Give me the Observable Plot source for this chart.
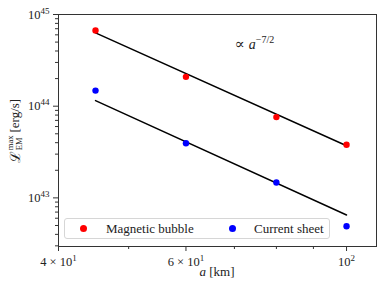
<!DOCTYPE html>
<html><head><meta charset="utf-8">
<script src="https://cdn.jsdelivr.net/npm/d3@7"></script>
<script src="https://cdn.jsdelivr.net/npm/@observablehq/plot@0.6"></script>
<style>
body{margin:0;background:#fff;}
#wrap{position:relative;width:391px;height:295px;font-family:"Liberation Serif","Times New Roman","DejaVu Serif",serif;color:#222;}
#wrap svg{display:block;}
#wrap svg text{font-family:"Liberation Serif","Times New Roman","DejaVu Serif",serif;}
.ylab{position:absolute;left:14px;top:131px;transform:translate(-50%,-50%) rotate(-90deg);white-space:nowrap;font-size:13px;display:flex;align-items:center;}
.stack{display:inline-flex;flex-direction:column;font-size:8.5px;line-height:0.95;margin:0 3px 0 1px;}
.xlab{position:absolute;left:217px;top:272px;transform:translate(-50%,-50%);font-size:13px;white-space:nowrap;}
.legend{position:absolute;left:64px;top:218px;width:266px;height:21px;border:1px solid #d6d6d6;border-radius:3px;background:rgba(255,255,255,0.85);box-sizing:border-box;font-size:13px;}
.legend .dot{position:absolute;width:7px;height:7px;border-radius:50%;top:6px;}
.legend .lt{position:absolute;top:1px;line-height:17px;white-space:nowrap;}
</style>
</head><body>
<div id="wrap"></div>
<script>
// data
const a = [45, 60, 80, 100];
const bubble = [6.7e44, 2.09e44, 7.6e43, 3.8e43];
const sheet = [1.48e44, 3.94e43, 1.47e43, 4.9e42];
const fitA = [45, 100];
const bubbleFit = [6.3e44, 3.7e43];
const sheetFit = [1.15e44, 6.5e42];
const seriesNames = ["Magnetic bubble", "Current sheet"];
const seriesColors = ["#ff0000", "#0000ff"];
const xMajor = [40, 60, 100];
const xMajorLabels = ["4 × 10^1", "6 × 10^1", "10^2"];
const xMinor = [50, 70, 80, 90];
const yMajor = [1e43, 1e44, 1e45];
const yMajorLabels = ["10^43", "10^44", "10^45"];
const yMinor = [3e42,4e42,5e42,6e42,7e42,8e42,9e42,2e43,3e43,4e43,5e43,6e43,7e43,8e43,9e43,2e44,3e44,4e44,5e44,6e44,7e44,8e44,9e44];
const noteA = [70.1];
const noteL = [4.7e44];

const pts = (ys) => a.map((d, i) => ({a: d, L: ys[i]}));
const fit = (ys) => fitA.map((d, i) => ({a: d, L: ys[i]}));

const chart = Plot.plot({
  width: 391, height: 295,
  marginLeft: 58, marginRight: 15, marginTop: 14, marginBottom: 49,
  x: {type: "log", domain: [40, 110]},
  y: {type: "log", domain: [2.95e42, 1e45]},
  style: {fontFamily: "Liberation Serif, serif", fontSize: "12px", color: "#333", background: "#fff"},
  marks: [
    Plot.axisX({ticks: xMinor, tickSize: 3, tickFormat: () => "", label: null}),
    Plot.axisX({ticks: xMajor, tickSize: 5, tickPadding: 6, tickFormat: (d) => xMajorLabels[xMajor.indexOf(d)], label: null, fill: "#222", fontSize: 12.5}),
    Plot.axisY({ticks: yMinor, tickSize: 3, tickFormat: () => "", label: null}),
    Plot.axisY({ticks: yMajor, tickSize: 5, tickPadding: 4, tickFormat: (d) => yMajorLabels[yMajor.indexOf(d)], label: null, fill: "#222", fontSize: 12.5}),
    Plot.line(fit(bubbleFit), {x: "a", y: "L", stroke: "black", strokeWidth: 1.5}),
    Plot.line(fit(sheetFit), {x: "a", y: "L", stroke: "black", strokeWidth: 1.5}),
    Plot.dot(pts(bubble), {x: "a", y: "L", fill: seriesColors[0], r: 3.2}),
    Plot.dot(pts(sheet), {x: "a", y: "L", fill: seriesColors[1], r: 3.2}),
    Plot.text(noteA.map((d, i) => ({a: d, L: noteL[i]})), {x: "a", y: "L", text: () => "NOTE", textAnchor: "start", fontSize: 14, fill: "#222"}),
    Plot.frame({stroke: "#333"})
  ]
});

const NS = "http://www.w3.org/2000/svg";
function ts(parent, str, attrs) {
  const t = document.createElementNS(NS, "tspan");
  t.textContent = str;
  for (const k in attrs) t.setAttribute(k, attrs[k]);
  parent.appendChild(t);
  return t;
}
function supify(el) {
  const s = el.textContent;
  const i = s.indexOf("^");
  if (i < 0) return;
  el.textContent = "";
  ts(el, s.slice(0, i), {});
  ts(el, s.slice(i + 1), {dy: "-5", "font-size": "9"});
}
chart.querySelectorAll("text").forEach((el) => {
  if (el.textContent === "NOTE") {
    el.textContent = "";
    ts(el, "∝ ", {"font-size": "15"});
    ts(el, "a", {"font-style": "italic"});
    ts(el, "−7/2", {dy: "-6", "font-size": "10"});
  } else supify(el);
});

const wrap = document.getElementById("wrap");
wrap.appendChild(chart);

const yl = document.createElement("div");
yl.className = "ylab";
yl.innerHTML = '<span style="font-size:14px">ℒ</span><span class="stack"><span>max</span><span>EM</span></span><span>[erg/s]</span>';
wrap.appendChild(yl);

const xl = document.createElement("div");
xl.className = "xlab";
xl.innerHTML = '<i>a</i> [km]';
wrap.appendChild(xl);

const lg = document.createElement("div");
lg.className = "legend";
const dotX = [15, 164], textX = [41, 189];
seriesNames.forEach((n, i) => {
  const d = document.createElement("span");
  d.className = "dot"; d.style.left = dotX[i] + "px"; d.style.background = seriesColors[i];
  lg.appendChild(d);
  const t = document.createElement("span");
  t.className = "lt"; t.style.left = textX[i] + "px"; t.textContent = n;
  lg.appendChild(t);
});
wrap.appendChild(lg);
</script>
</body></html>
